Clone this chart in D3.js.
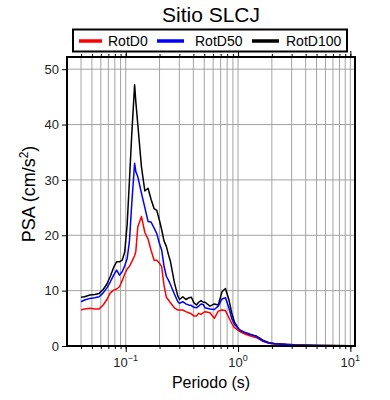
<!DOCTYPE html>
<meta charset="utf-8">
<head>
<style>

body {
  margin: 0;
}

svg {
  font-family: "Liberation Sans", Arial, Helvetica, sans-serif;
}

.grid line {
  stroke: #a3a3a3;
  stroke-width: 1px;
}

.series {
  fill: none;
  stroke-width: 1.5px;
  stroke-linejoin: round;
}

</style>
<script src="https://cdn.jsdelivr.net/npm/d3@7/dist/d3.min.js"></script>
</head>

<body>
<svg width="390" height="400"></svg>
<script>

// periodos (s)
var periods = [0.040, 0.043, 0.048, 0.053, 0.058, 0.063, 0.068, 0.073, 0.078, 0.083,
               0.088, 0.093, 0.098, 0.103, 0.108, 0.113, 0.120, 0.123, 0.128, 0.138,
               0.148, 0.158, 0.168, 0.179, 0.189, 0.199, 0.209, 0.219, 0.230, 0.240,
               0.250, 0.271, 0.291, 0.302, 0.322, 0.343, 0.364, 0.384, 0.405, 0.426,
               0.446, 0.468, 0.489, 0.509, 0.562, 0.615, 0.667, 0.720, 0.772, 0.826,
               0.878, 0.930, 1.04, 1.14, 1.25, 1.46, 1.68, 1.89, 2.11, 2.66,
               3.20, 4.30, 5.41, 7.62, 10.0];

var rotD0 = [6.5, 6.7, 6.8, 6.7, 6.7, 7.4, 8.4, 9.6, 10.1, 10.3,
             10.7, 11.8, 13.0, 13.9, 14.4, 15.2, 16.3, 17.1, 21.5, 23.4,
             20.5, 19.3, 17.3, 15.5, 15.5, 15.0, 14.3, 11.0, 8.8, 8.3,
             7.8, 6.9, 6.5, 6.5, 6.5, 6.2, 6.0, 5.8, 5.4, 5.4,
             5.9, 5.7, 6.0, 6.2, 6.0, 5.0, 6.3, 6.5, 6.4, 5.2,
             4.1, 3.3, 2.6, 2.2, 1.9, 1.5, 0.8, 0.5, 0.35, 0.25,
             0.17, 0.11, 0.08, 0.05, 0.03];

var rotD50 = [8.0, 8.3, 8.6, 8.7, 8.9, 9.6, 10.5, 11.6, 12.8, 13.7,
              12.8, 13.4, 14.5, 15.8, 19.0, 25.5, 33.0, 31.5, 30.6, 27.6,
              25.0, 22.5, 22.4, 21.3, 20.3, 18.6, 17.3, 14.5, 12.6, 11.9,
              11.1, 9.4, 8.0, 7.7, 8.0, 7.6, 7.4, 7.3, 7.0, 6.9,
              7.2, 7.6, 7.5, 6.9, 6.7, 6.6, 7.2, 8.5, 8.7, 7.0,
              5.0, 3.9, 2.9, 2.5, 2.2, 1.7, 0.9, 0.55, 0.4, 0.28,
              0.2, 0.13, 0.09, 0.06, 0.04];

var rotD100 = [8.8, 8.9, 9.2, 9.3, 9.5, 10.2, 11.2, 12.6, 14.2, 15.2,
               15.2, 15.5, 17.0, 22.0, 30.0, 38.0, 47.2, 44.1, 40.1, 32.4,
               28.0, 28.5, 26.5, 24.8, 24.5, 22.8, 21.0, 19.0, 18.0, 16.5,
               15.3, 11.5, 9.0, 8.4, 8.9, 8.4, 8.7, 8.8, 7.8, 7.4,
               7.9, 8.2, 7.9, 7.9, 7.2, 7.6, 7.4, 9.8, 10.4, 8.5,
               6.0, 4.3, 2.7, 2.3, 2.1, 1.8, 1.0, 0.6, 0.45, 0.3,
               0.22, 0.15, 0.1, 0.07, 0.05];

var seriesNames = ["RotD0", "RotD50", "RotD100"];
var seriesColors = ["#ff0000", "#0000ff", "#000000"];
var seriesValues = [rotD0, rotD50, rotD100];

var yTicks = [0, 10, 20, 30, 40, 50];
var decades = [0.1, 1, 10];
var decadeExp = ["\u22121", "0", "1"];

var svg = d3.select("svg");

var plotLeft = 67, plotRight = 355, plotTop = 57, plotBottom = 346;

var x = d3.scaleLog()
    .domain([0.03, 11])
    .range([plotLeft, plotRight]);

var y = d3.scaleLinear()
    .domain([0, 52.2])
    .range([plotBottom, plotTop]);

// valores menores 1..9 de cada decada
var minorTicks = [];
[0.01, 0.1, 1, 10].forEach(function(d) {
  for (var k = 1; k < 10; k++) {
    var v = +(d * k).toPrecision(3);
    if (v > 0.031 && v <= 10) minorTicks.push(v);
  }
});

// rejilla
var grid = svg.append("g").attr("class", "grid");

grid.selectAll("line.v")
  .data(minorTicks)
  .enter().append("line")
    .attr("class", "v")
    .attr("x1", function(d) { return x(d); })
    .attr("x2", function(d) { return x(d); })
    .attr("y1", plotTop)
    .attr("y2", plotBottom);

grid.selectAll("line.h")
  .data(yTicks.slice(1))
  .enter().append("line")
    .attr("class", "h")
    .attr("x1", plotLeft)
    .attr("x2", plotRight)
    .attr("y1", function(d) { return y(d); })
    .attr("y2", function(d) { return y(d); });

// curvas
var line = d3.line()
    .x(function(d) { return x(d[0]); })
    .y(function(d) { return y(d[1]); });

[2, 0, 1].forEach(function(i) {
  svg.append("path")
    .attr("class", "series")
    .attr("stroke", seriesColors[i])
    .attr("d", line(periods.map(function(p, j) { return [p, seriesValues[i][j]]; })));
});

// ejes
function tickAxis(axis, ty) {
  var g = svg.append("g")
    .attr("transform", "translate(0," + ty + ")")
    .call(axis);
  g.select(".domain").remove();
  g.selectAll("line").attr("stroke", "#000").attr("stroke-width", 1);
  return g;
}

tickAxis(d3.axisBottom(x).tickValues(minorTicks).tickSize(3).tickFormat(""), plotBottom);
tickAxis(d3.axisBottom(x).tickValues(decades).tickSize(6).tickFormat(""), plotBottom);
tickAxis(d3.axisTop(x).tickValues(minorTicks).tickSize(3).tickFormat(""), plotTop);
tickAxis(d3.axisTop(x).tickValues(decades).tickSize(6).tickFormat(""), plotTop);

var yAxis = svg.append("g")
    .attr("transform", "translate(" + plotLeft + ",0)")
    .call(d3.axisLeft(y).tickValues(yTicks).tickSize(5).tickPadding(3));
yAxis.select(".domain").remove();
yAxis.selectAll("text")
    .attr("font-size", 13)
    .attr("font-family", "Liberation Sans, Arial, sans-serif")
    .attr("fill", "#222");

var xLabels = svg.append("g").selectAll("text")
  .data(decades)
  .enter().append("text")
    .attr("x", function(d) { return x(d); })
    .attr("y", 367)
    .attr("text-anchor", "middle")
    .attr("font-size", 13)
    .attr("fill", "#222");
xLabels.append("tspan").text("10");
xLabels.append("tspan")
    .attr("dy", -6)
    .attr("font-size", 9)
    .text(function(d, i) { return decadeExp[i]; });

// marco
svg.append("rect")
    .attr("x", plotLeft)
    .attr("y", plotTop)
    .attr("width", plotRight - plotLeft)
    .attr("height", plotBottom - plotTop)
    .attr("fill", "none")
    .attr("stroke", "#000")
    .attr("stroke-width", 2);

// titulos
svg.append("text")
    .attr("x", 211)
    .attr("y", 22)
    .attr("text-anchor", "middle")
    .attr("font-size", 21)
    .text("Sitio SLCJ");

svg.append("text")
    .attr("x", 211)
    .attr("y", 388)
    .attr("text-anchor", "middle")
    .attr("font-size", 16)
    .text("Periodo (s)");

var yLabel = svg.append("text")
    .attr("transform", "translate(35,194) rotate(-90)")
    .attr("text-anchor", "middle")
    .attr("font-size", 18);
yLabel.append("tspan").text("PSA (cm/s");
yLabel.append("tspan").attr("dy", -7).attr("font-size", 12).text("2");
yLabel.append("tspan").attr("dy", 7).text(")");

// leyenda
svg.append("rect")
    .attr("x", 73)
    .attr("y", 29.5)
    .attr("width", 274)
    .attr("height", 22)
    .attr("fill", "#fff")
    .attr("stroke", "#000")
    .attr("stroke-width", 2);

var legendX = [79, 157, 252];
var legendTextGap = [29, 38, 34];

var legend = svg.append("g").selectAll("g")
  .data(seriesNames)
  .enter().append("g")
    .attr("transform", function(d, i) { return "translate(" + legendX[i] + ",41)"; });

legend.append("line")
    .attr("x1", 0)
    .attr("x2", function(d, i) { return i == 0 ? 23 : 27; })
    .attr("stroke", function(d, i) { return seriesColors[i]; })
    .attr("stroke-width", 3.5);

legend.append("text")
    .attr("x", function(d, i) { return legendTextGap[i]; })
    .attr("y", 5)
    .attr("font-size", 14)
    .text(function(d) { return d; });

</script>
</body>
